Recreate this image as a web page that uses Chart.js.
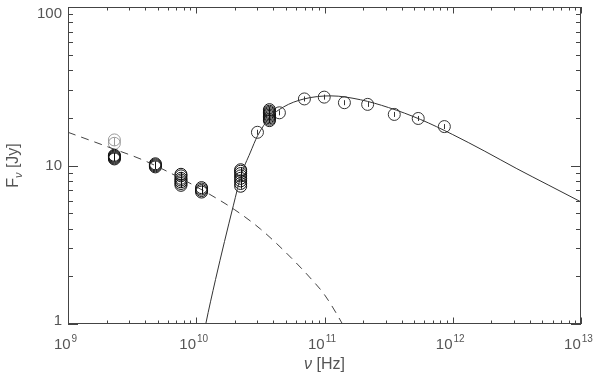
<!DOCTYPE html>
<html>
<head>
<meta charset="utf-8">
<script src="https://cdn.jsdelivr.net/npm/chart.js@4/dist/chart.umd.min.js"></script>
<style>
  body { margin: 0; background: #fff; }
  #wrap { width: 600px; height: 375px; }
</style>
</head>
<body>
<div id="wrap"><canvas id="sedChart" width="600" height="375"></canvas></div>
<script>
// measured groups (several epochs at the same frequency)
const groupNu = [2.3e9, 4.8e9, 7.6e9, 1.1e10, 2.22e10, 3.72e10];
const groupFlux = [
  [11.0, 11.15, 11.3, 11.45, 11.6],
  [9.8, 9.95, 10.1, 10.25],
  [7.5, 7.7, 7.9, 8.1, 8.3, 8.6, 8.8],
  [6.8, 6.95, 7.1, 7.25],
  [7.4, 7.7, 8.0, 8.3, 8.6, 8.9, 9.2, 9.4],
  [19.2, 19.6, 20.0, 20.4, 20.8, 21.2, 21.6, 22.0, 22.5]
];
// the two fainter circles at 2.3 GHz
const faintNu = [2.3e9, 2.3e9];
const faintFlux = [13.8, 14.5];
// single points
const singleNu = [3.0e10, 4.45e10, 6.97e10, 9.95e10, 1.43e11, 2.17e11, 3.5e11, 5.38e11, 8.6e11];
const singleFlux = [16.2, 21.5, 26.3, 27.0, 24.9, 24.3, 21.0, 19.8, 17.6];

// solid model curve
const fitNu = [1.148e10, 1.186e10, 1.413e10, 1.66e10, 1.95e10, 2.24e10, 2.63e10, 3.02e10, 3.72e10, 4.79e10,
  6.92e10, 1.12e11, 1.905e11, 3.16e11, 5.62e11, 1e12, 1.78e12, 3.16e12, 5.62e12, 1e13];
const fitFlux = [0.87, 1.0, 1.905, 3.31, 5.62, 8.7, 12.0, 15.5, 19.95, 23.4,
  26.3, 27.5, 26.0, 23.2, 19.5, 15.67, 12.3, 9.55, 7.5, 5.89];

// dashed model curve
const dashNu = [1e9, 2.0e9, 3.98e9, 7.94e9, 1.26e10, 2.0e10, 3.16e10, 5.01e10, 7.94e10, 1e11, 1.38e11, 1.58e11];
const dashFlux = [16.2, 13.2, 10.7, 8.13, 6.61, 5.25, 3.98, 2.82, 1.91, 1.53, 1.0, 0.81];

// axis labels
const xDecades = [9, 10, 11, 12, 13];
const yTickLabels = ['1', '10', '100'];

const pts = (xs, ys) => xs.map((x, i) => ({ x: x, y: ys[i] }));

let groupPoints = [];
groupNu.forEach((nu, i) => {
  groupFlux[i].forEach(f => groupPoints.push({ x: nu, y: f }));
});

const FONT = '"Liberation Sans", Arial, sans-serif';
const TXT = '#555';

// small error bar stroke inside each circle
const errTickPlugin = {
  id: 'errTicks',
  afterDatasetsDraw(chart) {
    const ctx = chart.ctx;
    ctx.save();
    ctx.lineWidth = 1;
    chart.data.datasets.forEach((ds, i) => {
      if (ds.type !== 'scatter') return;
      ctx.strokeStyle = ds.pointBorderColor;
      ctx.beginPath();
      chart.getDatasetMeta(i).data.forEach(el => {
        const x = Math.round(el.x) + 0.5;
        ctx.moveTo(x, el.y - 2.5);
        ctx.lineTo(x, el.y + 2.5);
      });
      ctx.stroke();
    });
    ctx.restore();
  }
};

// box, inward ticks and labels, IDL style
const axesPlugin = {
  id: 'idlAxes',
  afterDraw(chart) {
    const ctx = chart.ctx;
    const a = chart.chartArea;
    const xs = chart.scales.x, ys = chart.scales.y;
    ctx.save();
    ctx.strokeStyle = '#444';
    ctx.lineWidth = 1;
    ctx.strokeRect(Math.round(a.left) + 0.5, Math.round(a.top) + 0.5,
      Math.round(a.right - a.left) - 1, Math.round(a.bottom - a.top) - 1);

    ctx.beginPath();
    for (let d = 9; d <= 13; d++) {
      for (let m = 1; m <= 9; m++) {
        if (d === 13 && m > 1) break;
        const px = Math.round(xs.getPixelForValue(m * Math.pow(10, d))) + 0.5;
        const len = m === 1 ? 6.5 : 3.5;
        ctx.moveTo(px, a.bottom); ctx.lineTo(px, a.bottom - len);
        ctx.moveTo(px, a.top); ctx.lineTo(px, a.top + len);
      }
    }
    for (let d = 0; d <= 2; d++) {
      for (let m = 1; m <= 9; m++) {
        if (d === 2 && m > 1) break;
        const py = Math.round(ys.getPixelForValue(m * Math.pow(10, d))) + 0.5;
        const len = m === 1 ? 10 : 5;
        ctx.moveTo(a.left, py); ctx.lineTo(a.left + len, py);
        ctx.moveTo(a.right, py); ctx.lineTo(a.right - len, py);
      }
    }
    ctx.stroke();

    ctx.fillStyle = TXT;
    // y tick labels
    ctx.font = '15px ' + FONT;
    ctx.textAlign = 'right';
    ctx.textBaseline = 'middle';
    yTickLabels.forEach(lab => {
      let py = ys.getPixelForValue(parseFloat(lab));
      py = Math.min(Math.max(py, a.top + 7), a.bottom - 3);
      ctx.fillText(lab, a.left - 6, py);
    });
    // x tick labels 10^n
    ctx.textBaseline = 'alphabetic';
    ctx.textAlign = 'left';
    xDecades.forEach(d => {
      const px = xs.getPixelForValue(Math.pow(10, d));
      ctx.font = '15px ' + FONT;
      const wb = ctx.measureText('10').width;
      ctx.font = '10px ' + FONT;
      const ws = ctx.measureText(String(d)).width;
      const x0 = px - 3 - (wb + ws) / 2;
      ctx.font = '15px ' + FONT;
      ctx.fillText('10', x0, a.bottom + 25);
      ctx.font = '10px ' + FONT;
      ctx.fillText(String(d), x0 + wb + 1, a.bottom + 18);
    });
    // x title
    const t1 = '\u03BD', t2 = ' [Hz]';
    ctx.font = 'italic 16px ' + FONT;
    const w1 = ctx.measureText(t1).width;
    ctx.font = '16px ' + FONT;
    const w2 = ctx.measureText(t2).width;
    const cx = (a.left + a.right) / 2;
    let tx = cx - (w1 + w2) / 2;
    ctx.font = 'italic 16px ' + FONT;
    ctx.fillText(t1, tx, a.bottom + 45);
    ctx.font = '16px ' + FONT;
    ctx.fillText(t2, tx + w1, a.bottom + 45);
    // y title, rotated
    ctx.translate(18, (a.top + a.bottom) / 2);
    ctx.rotate(-Math.PI / 2);
    ctx.font = '16px ' + FONT;
    const wf = ctx.measureText('F').width;
    const wj = ctx.measureText(' [Jy]').width;
    ctx.font = 'italic 11px ' + FONT;
    const wn = ctx.measureText('\u03BD').width;
    let yx = -(wf + wn + wj) / 2;
    ctx.font = '16px ' + FONT;
    ctx.fillText('F', yx, 0);
    ctx.font = 'italic 11px ' + FONT;
    ctx.fillText('\u03BD', yx + wf, 4);
    ctx.font = '16px ' + FONT;
    ctx.fillText(' [Jy]', yx + wf + wn, 0);
    ctx.restore();
  }
};

const circleStyle = {
  type: 'scatter',
  showLine: false,
  pointStyle: 'circle',
  pointRadius: 6,
  pointBorderWidth: 1,
  pointBackgroundColor: 'rgba(0,0,0,0)',
};

new Chart(document.getElementById('sedChart'), {
  data: {
    datasets: [
      {
        type: 'line',
        label: 'fit',
        data: pts(fitNu, fitFlux),
        borderColor: '#333',
        borderWidth: 1,
        pointRadius: 0,
        cubicInterpolationMode: 'monotone',
      },
      {
        type: 'line',
        label: 'dash',
        data: pts(dashNu, dashFlux),
        borderColor: '#444',
        borderWidth: 1,
        borderDash: [8, 6],
        pointRadius: 0,
        cubicInterpolationMode: 'monotone',
      },
      Object.assign({}, circleStyle, { label: 'groups', data: groupPoints, pointBorderColor: '#111' }),
      Object.assign({}, circleStyle, { label: 'faint', data: pts(faintNu, faintFlux), pointBorderColor: '#999' }),
      Object.assign({}, circleStyle, { label: 'single', data: pts(singleNu, singleFlux), pointBorderColor: '#333' }),
    ]
  },
  options: {
    responsive: false,
    animation: false,
    devicePixelRatio: 1,
    layout: { padding: { left: 68, right: 19, top: 3, bottom: 51 } },
    scales: {
      x: { type: 'logarithmic', min: 1e9, max: 1e13, display: false },
      y: { type: 'logarithmic', min: 1, max: 100, display: false },
    },
    plugins: {
      legend: { display: false },
      tooltip: { enabled: false },
    },
  },
  plugins: [errTickPlugin, axesPlugin],
});
</script>
</body>
</html>
